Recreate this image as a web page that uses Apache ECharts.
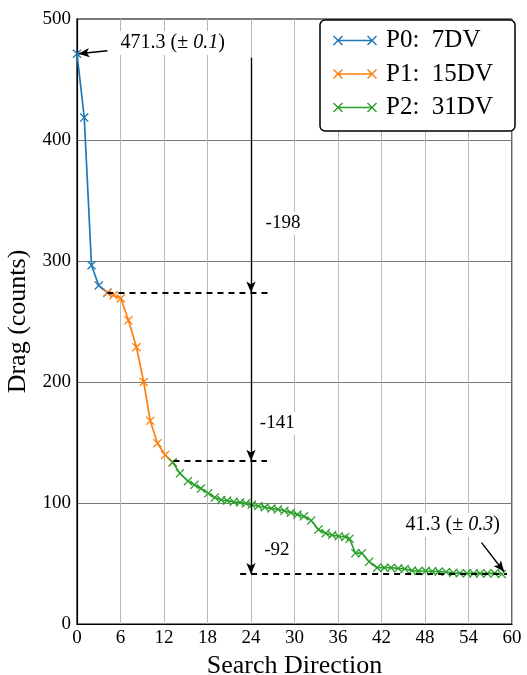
<!DOCTYPE html>
<html><head><meta charset="utf-8">
<script src="https://cdn.jsdelivr.net/npm/echarts@6/dist/echarts.min.js"></script>
<style>html,body{margin:0;padding:0;background:#fff}#c{width:527px;height:675px}</style>
</head><body><div id="c"></div>
<script>
// ---- data ----
const seriesNames = ['P0:  7DV', 'P1:  15DV', 'P2:  31DV'];
const p0X = [0, 1, 2, 3, 4.2];
const p0Y = [471.3, 418.5, 296.5, 279.8, 273.8];
const p1X = [4.2, 5.05, 6.05, 7.1, 8.2, 9.2, 10.1, 11.1, 12.15, 13.2];
const p1Y = [273.8, 271.7, 269.2, 251, 228.7, 200, 168, 149.3, 139.7, 133.6];
const p2X = [13.2, 14.2, 15.3, 16.2, 17.1, 18.1, 19.0, 19.9, 20.7, 21.6, 22.5, 23.3, 24.1, 25.0, 25.9, 26.8, 27.7, 28.6, 29.5, 30.4, 31.3, 32.3, 33.3, 34.3, 35.2, 36.1, 37.0, 37.6, 38.4, 39.3, 40.3, 41.4, 42.4, 43.3, 44.3, 45.2, 46.2, 47.1, 48.1, 49.0, 49.9, 50.9, 51.9, 52.8, 53.8, 54.7, 55.6, 56.6, 57.6, 58.6];
const p2Y = [133.6, 124.5, 118, 115, 112, 108, 104.5, 102.5, 102, 101, 100.5, 99.7, 98.5, 97.5, 96.5, 95.5, 94.8, 93.5, 92, 90.5, 89, 85.5, 78, 75, 73.5, 72.5, 72, 70.5, 58.5, 58.5, 51.5, 46.5, 46.5, 46.5, 46, 45.5, 44.2, 43.8, 43.8, 43.6, 43.4, 43, 42.3, 42, 41.9, 41.8, 41.8, 41.8, 42, 41.3];
const startValue = 471.3, endValue = 41.3;
const levels = [274, 135, 41.3];          // dashed reference levels
const drops = ['-198', '-141', '-92'];
const arrowX = 24;
const xMin = 0, xMax = 60, xStep = 6;
const yMin = 0, yMax = 500, yStep = 100;

const colors = ['#1f77b4', '#ff7f0e', '#2ca02c'];
const FONT = 'Liberation Serif';
const X_SYM = 'path://M0,1 L1,0 L5,4 L9,0 L10,1 L6,5 L10,9 L9,10 L5,6 L1,10 L0,9 L4,5 Z';
const LEG_ICON = 'path://M0,1 L1,0 L5,4 L9,0 L10,1 L6,5 L10,9 L9,10 L5,6 L1,10 L0,9 L4,5 Z M34,1 L35,0 L39,4 L43,0 L44,1 L40,5 L44,9 L43,10 L39,6 L35,10 L34,9 L38,5 Z M5,4.2 L39,4.2 L39,5.8 L5,5.8 Z';

const zip = (xs, ys) => xs.map((x, i) => [x, ys[i]]);

const dash = {type: [6, 5], width: 2, color: '#000'};
const arr = {type: 'solid', width: 1.4, color: '#000'};
const rich = {a: {fontFamily: FONT, fontSize: 20, color: '#000'}, b: {fontFamily: FONT, fontSize: 20, fontStyle: 'italic', color: '#000'}};
const lbl = (coord, text) => ({
  coord, symbol: 'rect', symbolSize: 0,
  label: {show: true, position: 'right', distance: 0, formatter: text, color: '#000',
    fontFamily: FONT, fontSize: 19, backgroundColor: '#fff', padding: [2, 3], rich}
});

const option = {
  animation: false,
  color: colors,
  grid: {left: 77, right: 15, top: 19, bottom: 51, show: true, borderColor: '#000', borderWidth: 1.2,
         backgroundColor: '#fff', containLabel: false, outerBoundsMode: 'none'},
  legend: {
    right: 12, top: 20, orient: 'vertical',
    icon: LEG_ICON, itemWidth: 44, itemHeight: 10, itemGap: 8.5,
    padding: [8, 11, 11, 13],
    borderColor: '#000', borderWidth: 1.5, borderRadius: 5, backgroundColor: '#fff',
    textStyle: {fontFamily: FONT, fontSize: 25, lineHeight: 25, color: '#000', padding: [0, 0, 0, 4], width: 118},
    itemStyle: {borderWidth: 0}
  },
  xAxis: {
    type: 'value', min: xMin, max: xMax, interval: xStep,
    name: 'Search Direction', nameLocation: 'middle', nameGap: 28,
    nameTextStyle: {fontFamily: FONT, fontSize: 26, color: '#000'},
    axisLine: {lineStyle: {color: '#000', width: 1.2}},
    axisTick: {show: false},
    axisLabel: {fontFamily: FONT, fontSize: 19, color: '#000', margin: 5},
    splitLine: {show: true, lineStyle: {color: '#b8b8b8', width: 1}}
  },
  yAxis: {
    type: 'value', min: yMin, max: yMax, interval: yStep,
    name: 'Drag (counts)', nameLocation: 'middle', nameGap: 40,
    nameTextStyle: {fontFamily: FONT, fontSize: 26, color: '#000'},
    axisLine: {show: true, lineStyle: {color: '#000', width: 1.2}},
    axisTick: {show: false},
    axisLabel: {fontFamily: FONT, fontSize: 19, color: '#000', margin: 6},
    splitLine: {show: true, lineStyle: {color: '#777', width: 1}}
  },
  series: [
    {name: seriesNames[0], type: 'line', data: zip(p0X, p0Y), symbol: X_SYM, symbolSize: 9,
     lineStyle: {width: 1.7, color: colors[0]}, itemStyle: {color: colors[0]}, z: 3},
    {name: seriesNames[1], type: 'line', data: zip(p1X, p1Y), symbol: X_SYM, symbolSize: 9,
     lineStyle: {width: 1.7, color: colors[1]}, itemStyle: {color: colors[1]}, z: 3},
    {name: seriesNames[2], type: 'line', data: zip(p2X, p2Y), symbol: X_SYM, symbolSize: 9,
     lineStyle: {width: 1.7, color: colors[2]}, itemStyle: {color: colors[2]}, z: 4,
     markLine: {
       silent: true, symbol: ['none', 'none'], label: {show: false},
       data: [
         [{coord: [4.2, levels[0]], lineStyle: dash}, {coord: [26.5, levels[0]]}],
         [{coord: [13.3, levels[1]], lineStyle: dash}, {coord: [26.2, levels[1]]}],
         [{coord: [22.5, levels[2]], lineStyle: dash}, {coord: [59.3, levels[2]]}],
         [{coord: [arrowX, 468], lineStyle: arr, symbol: 'none'}, {coord: [arrowX, levels[0]], symbol: 'arrow', symbolSize: [7, 11]}],
         [{coord: [arrowX, levels[0]], lineStyle: arr, symbol: 'none'}, {coord: [arrowX, levels[1]], symbol: 'arrow', symbolSize: [7, 11]}],
         [{coord: [arrowX, levels[1]], lineStyle: arr, symbol: 'none'}, {coord: [arrowX, levels[2]], symbol: 'arrow', symbolSize: [7, 11]}],
         [{coord: [4.2, 473.8], lineStyle: arr, symbol: 'none'}, {coord: [0.2, startValue], symbol: 'arrow', symbolSize: [7, 11]}],
         [{coord: [55.8, 67.2], lineStyle: arr, symbol: 'none'}, {coord: [58.9, 43.2], symbol: 'arrow', symbolSize: [7, 11]}]
       ]
     },
     markPoint: {
       silent: true,
       data: [
         lbl([5.6, 480.2], '{a|471.3 (± }{b|0.1}{a|)}'),
         lbl([44.9, 81.8], '{a|41.3 (± }{b|0.3}{a|)}'),
         lbl([25.6, 331], drops[0]),
         lbl([24.8, 166], drops[1]),
         lbl([25.4, 61.5], drops[2])
       ]
     }
    }
  ]
};
const chart = echarts.init(document.getElementById('c'), null, {renderer: 'canvas'});
chart.setOption(option);
</script>
</body></html>
